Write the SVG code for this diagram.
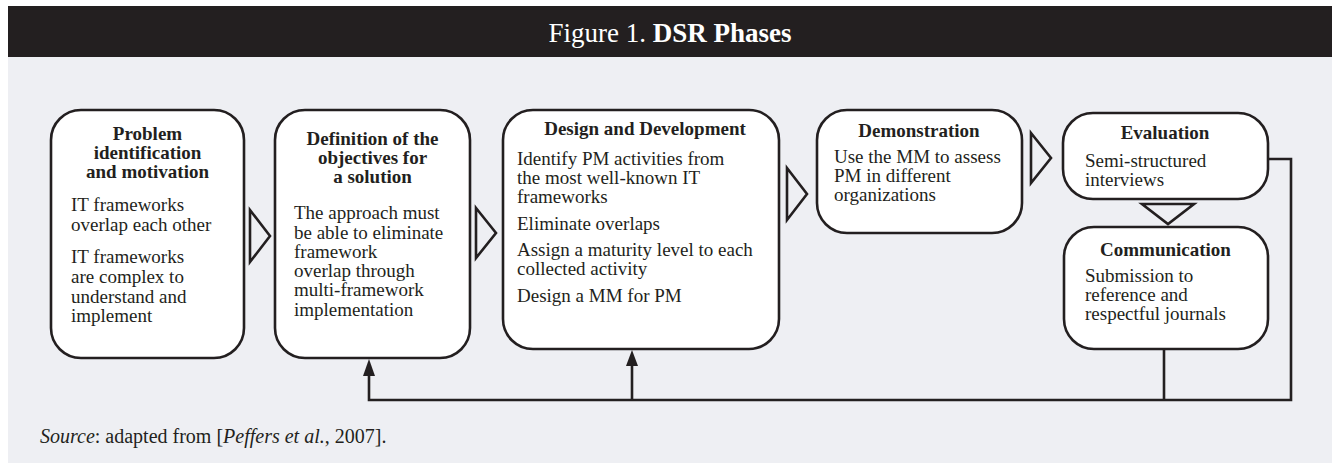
<svg xmlns="http://www.w3.org/2000/svg" width="1334" height="463" viewBox="0 0 1334 463">
<style>
text{font-family:"Liberation Serif","Times New Roman",serif;fill:#231f20;font-size:19px}
.h{font-weight:bold;text-anchor:middle}
.box{fill:#ffffff;stroke:#231f20;stroke-width:2.6}
.tri{fill:none;stroke:#231f20;stroke-width:2.6;stroke-linejoin:miter}
.ln{fill:none;stroke:#231f20;stroke-width:2.6}
</style>
<defs>
<marker id="ah" viewBox="0 0 12 16" refX="6" refY="1" markerWidth="12" markerHeight="16" markerUnits="userSpaceOnUse" orient="auto-start-reverse">
<path d="M0,16 L6,0 L12,16 Z" fill="#231f20"/>
</marker>
</defs>
<rect x="8" y="6" width="1324" height="51" fill="#231f20"/>
<rect x="8" y="57" width="1324" height="406" fill="#eeeff3"/>
<text x="670" y="42" text-anchor="middle" style="font-size:27px;fill:#ffffff">Figure 1. <tspan font-weight="bold">DSR Phases</tspan></text>

<g id="connectors">
<polygon class="tri" points="250,210 270,236 250,262"/>
<polygon class="tri" points="476,208 496,233 476,258"/>
<polygon class="tri" points="787,168 807,194 787,220"/>
<polygon class="tri" points="1031,133 1051,158 1031,183"/>
<polygon class="tri" points="1142,204 1194,204 1168,224"/>
<path class="ln" d="M1268,159 H1291 V400 H369 V376"/>
<path class="ln" d="M1164,349 V400"/>
<path class="ln" d="M632,400 V366"/>
<path d="M363,376 L369,359 L375,376 Z" fill="#231f20"/>
<path d="M626,366 L632,350 L638,366 Z" fill="#231f20"/>
</g>

<g id="problem">
<rect class="box" x="51" y="110" width="193" height="248" rx="30"/>
<text class="h" x="147.5" y="140">Problem</text>
<text class="h" x="147.5" y="159">identification</text>
<text class="h" x="147.5" y="178">and motivation</text>
<text x="71" y="211">IT frameworks</text>
<text x="71" y="231">overlap each other</text>
<text x="71" y="263">IT frameworks</text>
<text x="71" y="283">are complex to</text>
<text x="71" y="303">understand and</text>
<text x="71" y="322">implement</text>
</g>

<g id="objectives">
<rect class="box" x="275" y="110" width="195" height="248" rx="30"/>
<text class="h" x="372.5" y="145">Definition of the</text>
<text class="h" x="372.5" y="164">objectives for</text>
<text class="h" x="372.5" y="183">a solution</text>
<text x="294" y="219">The approach must</text>
<text x="294" y="239">be able to eliminate</text>
<text x="294" y="258">framework</text>
<text x="294" y="277">overlap through</text>
<text x="294" y="296">multi-framework</text>
<text x="294" y="316">implementation</text>
</g>

<g id="design">
<rect class="box" x="503" y="110" width="276" height="239" rx="30"/>
<text class="h" x="645" y="135">Design and Development</text>
<text x="517" y="165">Identify PM activities from</text>
<text x="517" y="184">the most well-known IT</text>
<text x="517" y="203">frameworks</text>
<text x="517" y="230">Eliminate overlaps</text>
<text x="517" y="256">Assign a maturity level to each</text>
<text x="517" y="275">collected activity</text>
<text x="517" y="302">Design a MM for PM</text>
</g>

<g id="demonstration">
<rect class="box" x="817" y="110" width="205" height="123" rx="30"/>
<text class="h" x="919" y="137">Demonstration</text>
<text x="834" y="163">Use the MM to assess</text>
<text x="834" y="182">PM in different</text>
<text x="834" y="201">organizations</text>
</g>

<g id="evaluation">
<rect class="box" x="1063" y="113" width="205" height="86" rx="30"/>
<text class="h" x="1165" y="139">Evaluation</text>
<text x="1085" y="167">Semi-structured</text>
<text x="1085" y="186">interviews</text>
</g>

<g id="communication">
<rect class="box" x="1064" y="227" width="204" height="122" rx="30"/>
<text class="h" x="1165.5" y="256">Communication</text>
<text x="1085" y="282">Submission to</text>
<text x="1085" y="301">reference and</text>
<text x="1085" y="320">respectful journals</text>
</g>

<text x="40" y="443" style="font-size:20px"><tspan font-style="italic">Source</tspan>: adapted from [<tspan font-style="italic">Peffers et al.</tspan>, 2007].</text>
</svg>
